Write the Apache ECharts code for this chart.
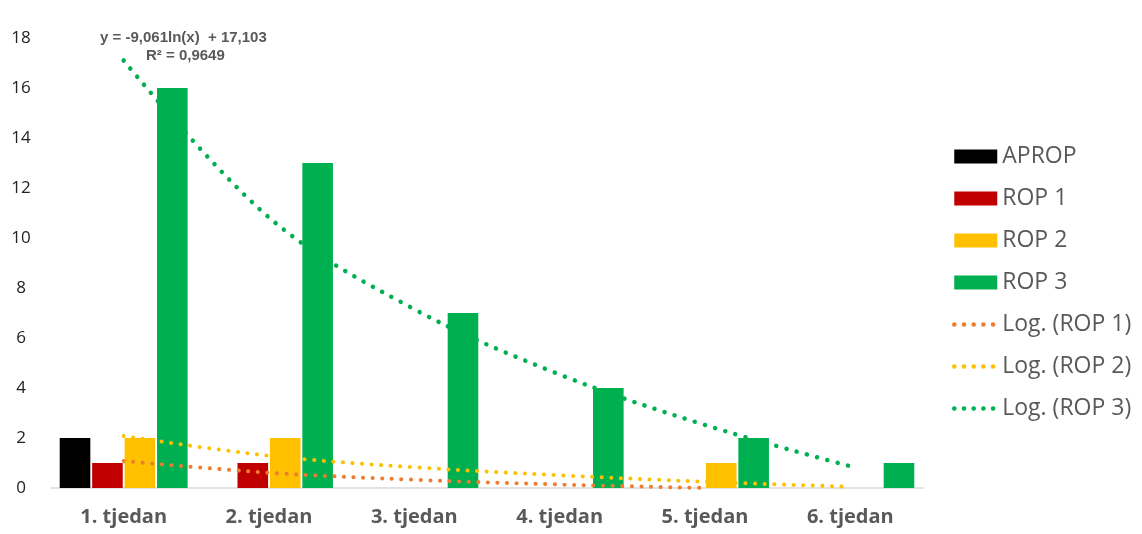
<!DOCTYPE html>
<html>
<head>
<meta charset="utf-8">
<script src="https://cdn.jsdelivr.net/npm/echarts@6/dist/echarts.min.js"></script>
<style>html,body{margin:0;padding:0;background:#fff;}#c{width:1142px;height:534px;}</style>
</head>
<body>
<div id="c"></div>
<script>
const categories = ['1. tjedan', '2. tjedan', '3. tjedan', '4. tjedan', '5. tjedan', '6. tjedan'];
const aprop = [2, 0, 0, 0, 0, 0];
const rop1 = [1, 1, 0, 0, 0, 0];
const rop2 = [2, 2, 0, 0, 1, 0];
const rop3 = [16, 13, 7, 4, 2, 1];
// trendline values read at category centres
const logRop1 = [1.08, 0.61, 0.33, 0.14, 0, null];
const logRop2 = [2.08, 1.29, 0.83, 0.51, 0.25, 0.05];
const logRop3 = [17.1, 10.82, 7.15, 4.54, 2.52, 0.87];
const yTicks = [0, 2, 4, 6, 8, 10, 12, 14, 16, 18];

const FONT = '"Open Sans"';
const chart = echarts.init(document.getElementById('c'));
function bar(name, data, color) {
  return { name, type: 'bar', data, barGap: '6%', barCategoryGap: '12%',
    itemStyle: { color }, emphasis: { disabled: true } };
}
function trend(name, data, color, w, gap) {
  return { name, type: 'line', data, smooth: 0.35, symbol: 'none', showSymbol: false,
    connectNulls: false, z: 5,
    lineStyle: { color, width: w, type: [0.1, gap], cap: 'round' },
    itemStyle: { color }, emphasis: { disabled: true } };
}
const hideSym = { opacity: 0 };
const legLine = { width: 4.5, type: [0.1, 9.6], cap: 'round' };
chart.setOption({
  animation: false,
  grid: { left: 51, right: 219, top: 38, bottom: 46 },
  xAxis: {
    type: 'category', data: categories,
    axisLine: { lineStyle: { color: '#d9d9d9', width: 1.5 } },
    axisTick: { show: false },
    axisLabel: { color: '#595959', fontFamily: FONT, fontWeight: 'bold', fontSize: 20, margin: 19 }
  },
  yAxis: {
    type: 'value', min: yTicks[0], max: yTicks[yTicks.length - 1], interval: 2,
    axisLine: { show: false }, axisTick: { show: false }, splitLine: { show: false },
    axisLabel: { color: '#222', fontFamily: FONT, fontSize: 17, align: 'center', margin: 30 }
  },
  legend: {
    orient: 'vertical', left: 952, top: 145, itemWidth: 43, itemHeight: 14, itemGap: 19, padding: 0,
    textStyle: { color: '#595959', fontFamily: FONT, fontSize: 23 },
    data: [
      { name: 'APROP', icon: 'rect' }, { name: 'ROP 1', icon: 'rect' },
      { name: 'ROP 2', icon: 'rect' }, { name: 'ROP 3', icon: 'rect' },
      { name: 'Log. (ROP 1)', itemStyle: hideSym, lineStyle: legLine },
      { name: 'Log. (ROP 2)', itemStyle: hideSym, lineStyle: legLine },
      { name: 'Log. (ROP 3)', itemStyle: hideSym, lineStyle: legLine }
    ]
  },
  graphic: [
    { type: 'text', left: 100, top: 30, style: { text: 'y = -9,061ln(x)  + 17,103', fill: '#595959',
      font: 'bold 15px "Liberation Sans"' } },
    { type: 'text', left: 146, top: 48, style: { text: 'R² = 0,9649', fill: '#595959',
      font: 'bold 15px "Liberation Sans"' } }
  ],
  series: [
    bar('APROP', aprop, '#000000'),
    bar('ROP 1', rop1, '#c00000'),
    bar('ROP 2', rop2, '#ffc000'),
    bar('ROP 3', rop3, '#00b050'),
    trend('Log. (ROP 1)', logRop1, '#ed7d31', 4, 9.5),
    trend('Log. (ROP 2)', logRop2, '#ffc000', 4, 9.5),
    trend('Log. (ROP 3)', logRop3, '#00b050', 4.5, 10.5)
  ]
});
</script>
</body>
</html>
